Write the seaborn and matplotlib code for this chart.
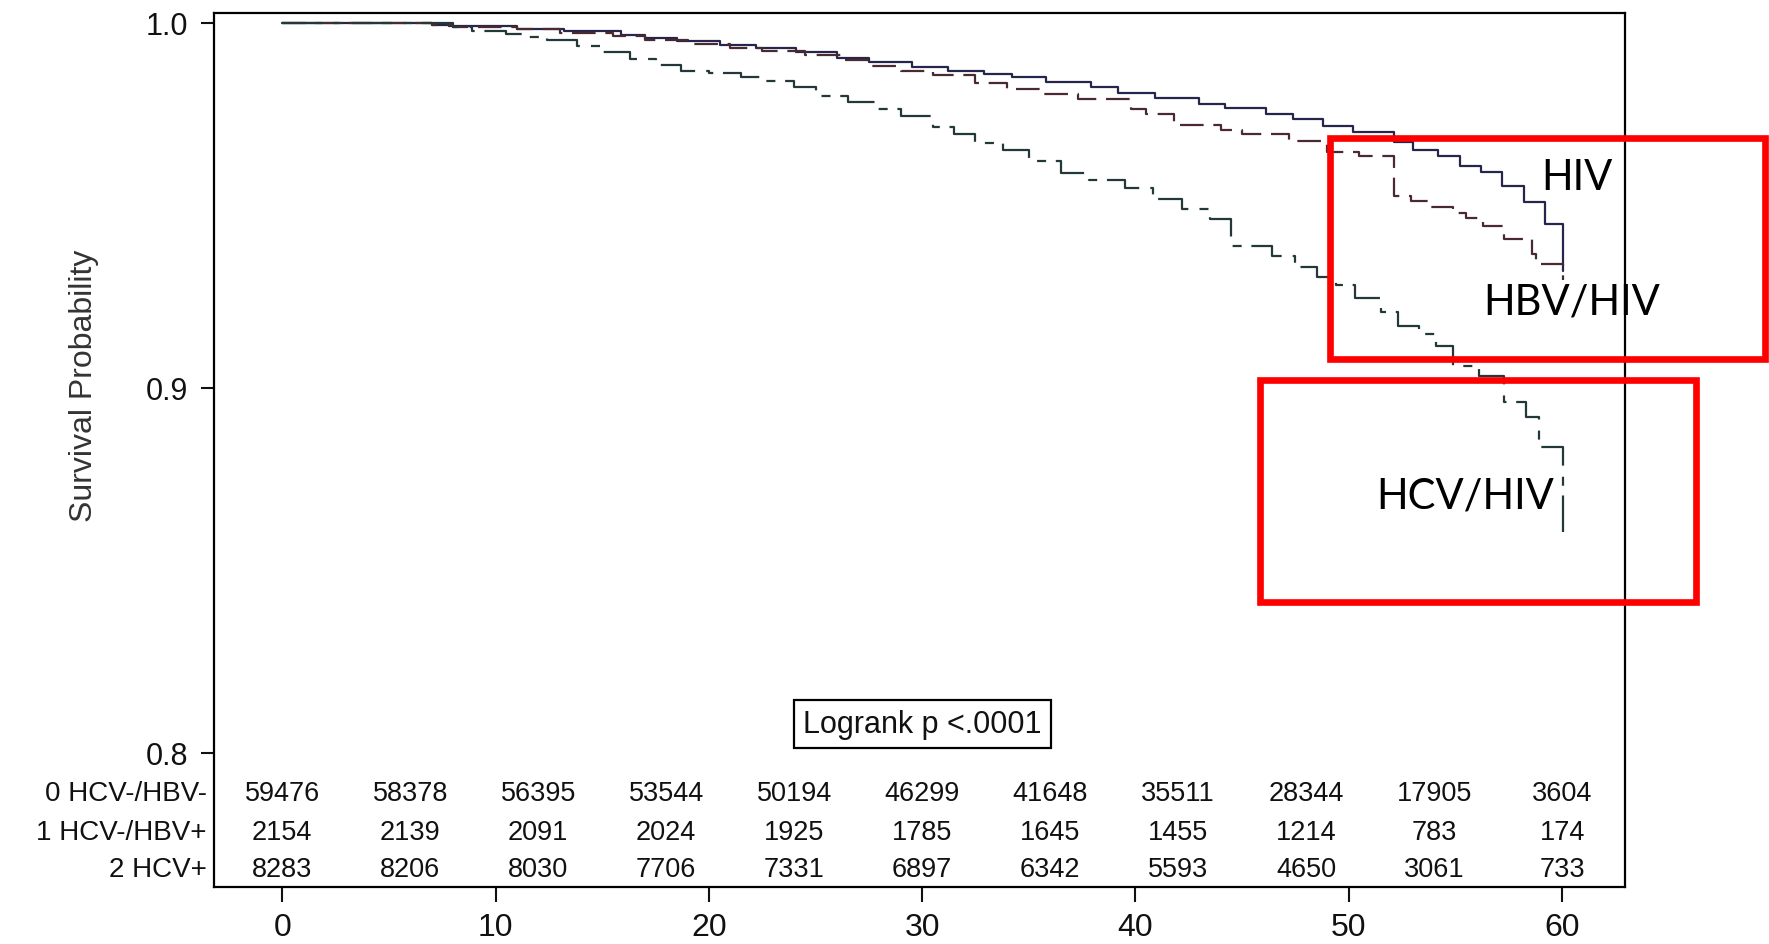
import numpy as np
import pandas as pd
import matplotlib
matplotlib.use("Agg")
import matplotlib.pyplot as plt
import seaborn as sns
from matplotlib.patches import Rectangle

# ---------------- data ----------------
# Kaplan-Meier step points (time in months, survival probability)
hiv_time = [0, 7.0, 7.8, 11.0, 13.2, 15.9, 17.0, 18.5, 20.5, 22.2,
            24.1, 26.0, 27.5, 29.5, 31.2, 32.9, 34.2, 35.8, 37.9, 39.2,
            40.9, 43.0, 44.2, 46.1, 47.4, 48.8, 50.2, 52.1, 53.0, 54.2,
            55.2, 56.2, 57.2, 58.2, 59.2, 60.05]
hiv_surv = [1.0, .9995, .9990, .9984, .9976, .9966, .9957, .9950, .9940, .9930,
            .9920, .9903, .9893, .9879, .9869, .9860, .9850, .9838, .9824, .9807,
            .9795, .9778, .9766, .9750, .9735, .9718, .9700, .9673, .9652, .9635,
            .9607, .9590, .9553, .9510, .9448, .9320]

hbv_time = [0, 7.0, 8.0, 11.0, 13.0, 15.5, 17.0, 19.0, 21.0, 22.5,
            24.5, 26.2, 27.5, 29.0, 30.5, 32.5, 34.0, 35.6, 37.3, 39.8,
            40.5, 41.8, 44.0, 45.0, 47.2, 49.0, 50.5, 52.1, 52.9, 53.7,
            54.9, 55.5, 56.3, 57.3, 58.6, 58.8, 60.05]
hbv_surv = [1.0, .9994, .9988, .9982, .9973, .9963, .9953, .9942, .9932, .9922,
            .9912, .9897, .9882, .9868, .9858, .9836, .9818, .9805, .9791, .9764,
            .9750, .9720, .9705, .9695, .9677, .9646, .9636, .9526, .9512, .9495,
            .9480, .9465, .9443, .9407, .9365, .9340, .9295]

hcv_time = [0, 8.0, 8.9, 10.5, 11.5, 12.4, 13.8, 15.0, 16.3, 17.5,
            18.7, 20.0, 21.5, 22.7, 24.0, 25.0, 26.5, 27.8, 29.0, 30.5,
            31.5, 32.5, 33.8, 35.0, 36.5, 37.8, 39.5, 40.8, 42.2, 43.5,
            44.5, 46.4, 47.5, 48.5, 49.4, 50.3, 51.5, 52.3, 53.3, 54.1,
            54.9, 56.1, 57.3, 58.3, 58.9, 60.05]
hcv_surv = [1.0, .9987, .9977, .9970, .9962, .9952, .9936, .9921, .9900, .9885,
            .9868, .9861, .9851, .9839, .9823, .9800, .9782, .9764, .9745, .9713,
            .9695, .9671, .9650, .9620, .9589, .9570, .9547, .9518, .9490, .9462,
            .9389, .9360, .9330, .9303, .9282, .9246, .9207, .9170, .9147, .9115,
            .9060, .9033, .8960, .8920, .8837, .8605]

# number at risk table
risk_times = [0, 6, 12, 18, 24, 30, 36, 42, 48, 54, 60]
risk_labels = ["0 HCV-/HBV-", "1 HCV-/HBV+", "2 HCV+"]
risk_g0 = [59476, 58378, 56395, 53544, 50194, 46299, 41648, 35511, 28344, 17905, 3604]
risk_g1 = [2154, 2139, 2091, 2024, 1925, 1785, 1645, 1455, 1214, 783, 174]
risk_g2 = [8283, 8206, 8030, 7706, 7331, 6897, 6342, 5593, 4650, 3061, 733]

x_ticks = [0, 10, 20, 30, 40, 50, 60]
y_ticks = [0.8, 0.9, 1.0]
y_ticklabels = ["0.8", "0.9", "1.0"]
curve_labels = ["HIV", "HBV/HIV", "HCV/HIV"]
logrank_text = "Logrank p <.0001"
y_label = "Survival Probability"

# ---------------- style ----------------
sns.set_theme(style="white")
plt.rcParams["font.family"] = ["Liberation Sans", "DejaVu Sans"]
plt.rcParams["lines.scale_dashes"] = False

W, H = 1769, 945
fig = plt.figure(figsize=(W / 100, H / 100), dpi=100)
fig.patch.set_facecolor("white")
ax = fig.add_axes([214 / W, 1 - 888 / H, (1625 - 214) / W, (888 - 13.5) / H])

groups = [
    (hiv_time, hiv_surv, "#26264c", None),
    (hbv_time, hbv_surv, "#4a2a30", (0, (17, 7))),
    (hcv_time, hcv_surv, "#24383a", (0, (29, 8, 6.5, 7))),
]
for t, s, col, dash in groups:
    df = pd.DataFrame({"time": t, "surv": s})
    sns.lineplot(data=df, x="time", y="surv", drawstyle="steps-post",
                 color=col, linewidth=1.6, estimator=None, sort=False, ax=ax)
    line = ax.get_lines()[-1]
    if dash is not None:
        line.set_linestyle(dash)

ax.set_xlim(-3.2, 62.95)
ax.set_ylim(0.7632, 1.0028)
ax.set_xticks(x_ticks)
ax.set_yticks(y_ticks)
ax.set_yticklabels(y_ticklabels)
ax.set_xlabel("")
ax.set_ylabel("")
for sp in ax.spines.values():
    sp.set_color("black")
    sp.set_linewidth(1.6)
ax.tick_params(axis="x", bottom=True, direction="out", length=11, width=1.5,
               labelsize=23, pad=7, colors="#111111")
ax.tick_params(axis="y", left=True, direction="out", length=9.5, width=1.5,
               labelsize=22, pad=9, colors="#111111")

fig.text(84 / W, 1 - 386 / H, y_label, rotation=90, ha="center", va="center",
         fontsize=23, color="#333333")

# number at risk rows
row_y = [0.7889, 0.7784, 0.7681]
for lab, vals, yv in zip(risk_labels, [risk_g0, risk_g1, risk_g2], row_y):
    ax.text(-3.55, yv, lab, ha="right", va="center", fontsize=20, color="#111111")
    for tt, v in zip(risk_times, vals):
        ax.text(tt, yv, str(v), ha="center", va="center", fontsize=19.5, color="#111111")

# logrank box
ax.text(30, 0.8078, logrank_text, ha="center", va="center", fontsize=22,
        color="#111111",
        bbox=dict(boxstyle="square,pad=0.3", fc="white", ec="black", lw=1.6))

# red highlight boxes (figure pixels)
def red_box(x0, y0, x1, y1):
    fig.add_artist(Rectangle((x0 / W, 1 - y1 / H), (x1 - x0) / W, (y1 - y0) / H,
                             transform=fig.transFigure, fill=False, ec="#ff0000",
                             lw=4.8, joinstyle="miter", clip_on=False))

red_box(1329.5, 139.5, 1765, 360)
red_box(1260, 381, 1696, 602.5)

fig.text(1577 / W, 1 - 178 / H, curve_labels[0], ha="center", va="center",
         fontsize=30, family=["Lato", "DejaVu Sans"], color="black")
fig.text(1572 / W, 1 - 303 / H, curve_labels[1], ha="center", va="center",
         fontsize=30, family=["Lato", "DejaVu Sans"], color="black")
fig.text(1465 / W, 1 - 497 / H, curve_labels[2], ha="center", va="center",
         fontsize=30, family=["Lato", "DejaVu Sans"], color="black")

fig.savefig("out.png", dpi=100, facecolor="white")
